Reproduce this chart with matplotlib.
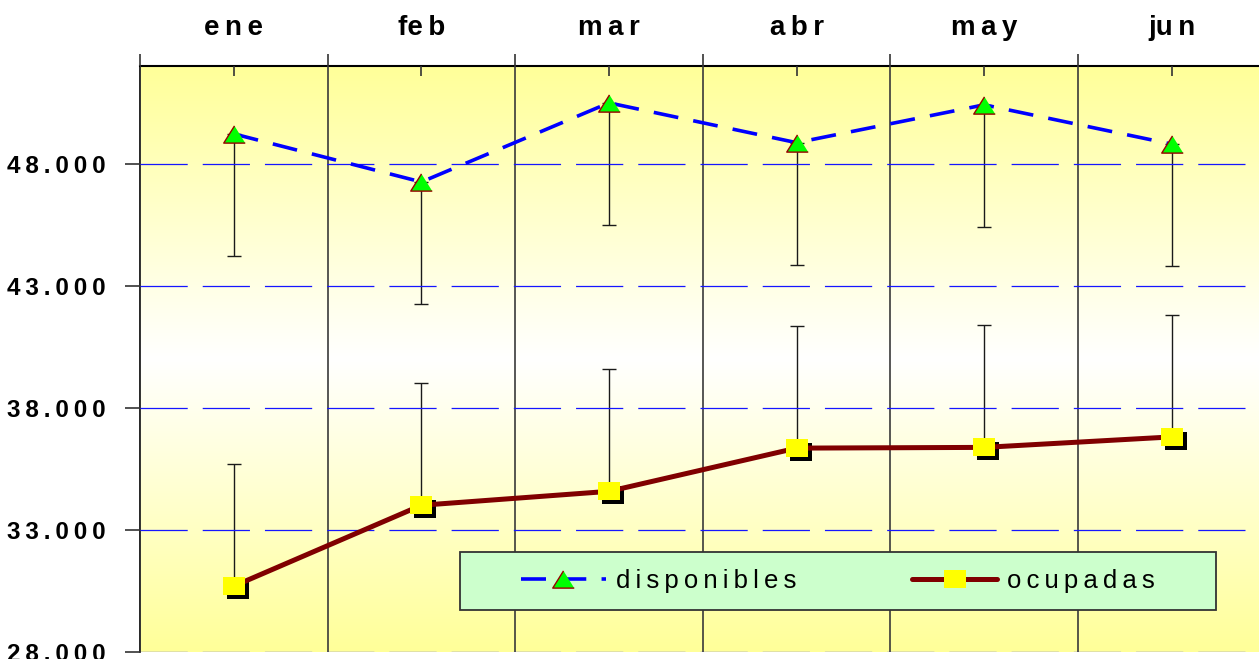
import numpy as np
import matplotlib
matplotlib.use("Agg")
import matplotlib.pyplot as plt
from matplotlib.colors import LinearSegmentedColormap
from matplotlib.patches import Rectangle
from matplotlib.transforms import offset_copy
from matplotlib.ticker import FixedLocator

plt.rcParams['font.family'] = ['Liberation Sans', 'DejaVu Sans']
plt.rcParams['lines.scale_dashes'] = False

# ---------------- data ----------------
months = ["ene", "feb", "mar", "abr", "may", "jun"]
month_labels = ["e\u2009n\u2009e", "fe\u2009b", "m\u2009a\u2009r", "a\u2009b\u2009r", "m\u2009a\u2009y", "ju\u2009n"]
disponibles = [49220, 47250, 50490, 48860, 50410, 48800]
ocupadas = [30700, 34010, 34580, 36350, 36380, 36810]
disp_err_low = [5000, 5000, 5000, 5000, 5000, 5000]
ocup_err_up = [5000, 5000, 5000, 5000, 5000, 5000]
series_names = ["disponibles", "ocupadas"]
y_ticks = [28000, 33000, 38000, 43000, 48000]
y_tick_labels = ["28.000", "33.000", "38.000", "43.000", "48.000"]
y_min, y_max = 28000, 52000

TS = "\u2009"
def spaced(s):
    return TS.join(list(s))

# ---------------- figure ----------------
W, H = 1259, 659
fig = plt.figure(figsize=(W / 100, H / 100), dpi=100)
left_px, top_px, bottom_px = 140, 66, 652
cat_w = 187.6
ax = fig.add_axes([left_px / W, 1 - bottom_px / H, 6 * cat_w / W, (bottom_px - top_px) / H])

x = np.arange(len(months))

# background gradient (yellow - white - yellow)
cmap = LinearSegmentedColormap.from_list("yw", ["#FFFFFF", "#FFFF99"])
grad = np.abs(np.linspace(-1, 1, 256)).reshape(-1, 1)
ax.imshow(grad, extent=[-0.5, 5.5, y_min, y_max], aspect='auto', cmap=cmap,
          origin='lower', interpolation='bilinear', zorder=0, vmin=0, vmax=1)

# error bars
ax.errorbar(x, disponibles, yerr=[disp_err_low, [0] * len(x)], fmt='none',
            ecolor='#1a1a1a', elinewidth=1.0, capsize=5, capthick=1.0, zorder=2)
ax.errorbar(x, ocupadas, yerr=[[0] * len(x), ocup_err_up], fmt='none',
            ecolor='#1a1a1a', elinewidth=1.0, capsize=5, capthick=1.0, zorder=2)

tri = [(0, 0.8), (-1, -0.8), (1, -0.8)]
sq = [(-1, -0.78), (1, -0.78), (1, 0.78), (-1, 0.78)]

l_disp, = ax.plot(x, disponibles, color='#0000FF', lw=2.6, dashes=(18, 11),
                  marker=tri, markersize=15.5, markerfacecolor='#00FF00',
                  markeredgecolor='#990000', markeredgewidth=1.0, zorder=4,
                  label=spaced(series_names[0]))

# shadow of square markers
shadow_tr = offset_copy(ax.transData, fig=fig, x=4, y=-4, units='dots')
ax.plot(x, ocupadas, linestyle='none', marker=sq, markersize=16.3,
        markerfacecolor='black', markeredgewidth=0, transform=shadow_tr, zorder=3)
l_ocu, = ax.plot(x, ocupadas, color='#800000', lw=3.6, solid_capstyle='round',
                 marker=sq, markersize=16.3, markerfacecolor='#FFFF00',
                 markeredgewidth=0, zorder=4, label=spaced(series_names[1]))
# redraw markers above line
ax.plot(x, ocupadas, linestyle='none', marker=sq, markersize=16.3,
        markerfacecolor='#FFFF00', markeredgewidth=0, zorder=5)

ax.set_xlim(-0.5, 5.5)
ax.set_ylim(y_min, y_max)

# x axis on top
ax.xaxis.tick_top()
ax.xaxis.set_major_locator(FixedLocator(np.arange(-0.5, 6.0, 1.0)))
ax.xaxis.set_minor_locator(FixedLocator(x))
ax.set_xticklabels([""] * 7)
ax.set_xticks(x, minor=True)
ax.set_xticklabels(month_labels, minor=True, fontsize=20, fontweight='bold')
ax.tick_params(axis='x', which='major', direction='out', length=9, width=1.2,
               color='#333333', top=True, bottom=False)
ax.tick_params(axis='x', which='minor', direction='in', length=7, width=1.2,
               color='#333333', top=True, bottom=False, labeltop=True,
               labelbottom=False, pad=18)
ax.grid(axis='x', which='major', color='#3a3a3a', lw=1.2, zorder=1)

# y axis
ax.set_yticks(y_ticks)
ax.set_yticklabels([spaced(s) for s in y_tick_labels], fontsize=17.5, fontweight='bold')
ax.tick_params(axis='y', direction='out', length=11, width=1.2, color='#333333', pad=14)
ax.grid(axis='y', which='major', color='#1515FF', lw=0.9, dashes=(34, 10.8), zorder=1)
ax.set_axisbelow(False)
for gl in ax.get_xgridlines() + ax.get_ygridlines():
    gl.set_zorder(1)

for side in ['bottom', 'right']:
    ax.spines[side].set_visible(False)
ax.spines['top'].set_linewidth(1.5)
ax.spines['top'].set_color('black')
ax.spines['left'].set_linewidth(1.2)
ax.spines['left'].set_color('black')

# legend box
box_l, box_r, box_t, box_b = 460, 1216, 552, 610
fig.patches.append(Rectangle((box_l / W, 1 - box_b / H), (box_r - box_l) / W, (box_b - box_t) / H,
                             transform=fig.transFigure, facecolor='#CCFFCC',
                             edgecolor='#333333', lw=1.3, zorder=10))
leg = fig.legend(handles=[l_disp, l_ocu], loc='center',
                 bbox_to_anchor=((box_l + box_r) / 2 / W, 1 - (box_t + box_b) / 2 / H),
                 ncol=2, frameon=False, fontsize=18.5, handlelength=3.3,
                 handletextpad=0.4, columnspacing=4.5, borderpad=0.0, numpoints=1)
leg.set_zorder(11)

fig.savefig("out.png", dpi=100, facecolor='white')
